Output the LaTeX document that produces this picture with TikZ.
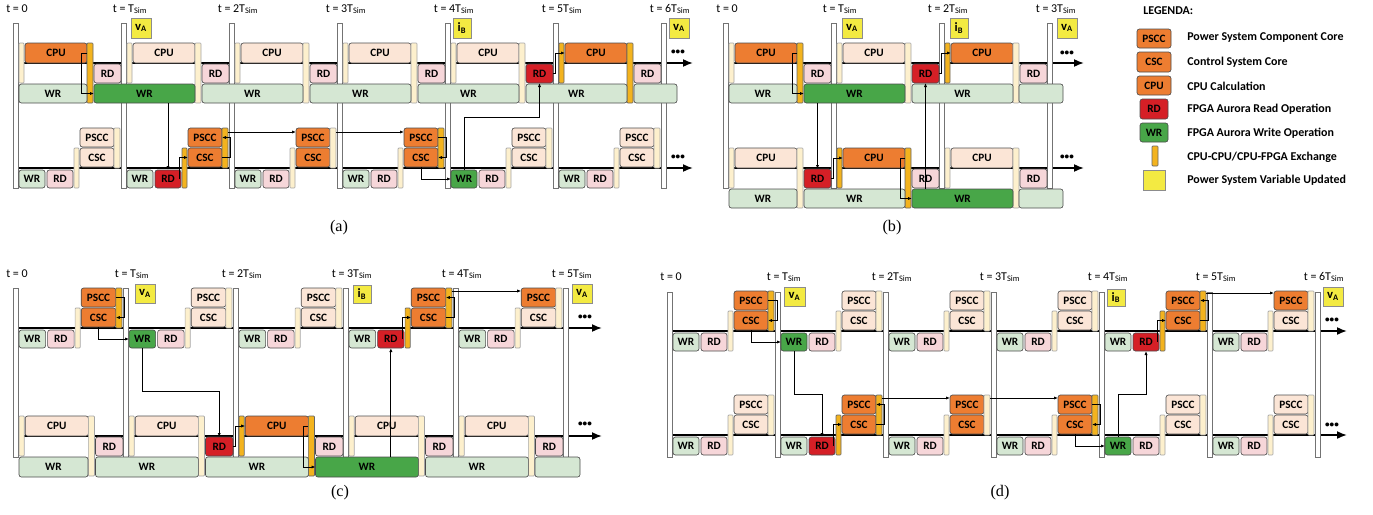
\documentclass[tikz,border=0pt]{standalone}
\usepackage{fontspec}
\setmainfont{Carlito}
\newfontfamily\capfont{Liberation Serif}
\usetikzlibrary{arrows.meta, calc}

\definecolor{orgD}{RGB}{237,125,49}
\definecolor{orgL}{RGB}{251,229,214}
\definecolor{redD}{RGB}{213,31,38}
\definecolor{redL}{RGB}{246,214,217}
\definecolor{grnD}{RGB}{72,166,72}
\definecolor{grnL}{RGB}{213,231,211}
\definecolor{gold}{RGB}{243,179,30}
\definecolor{cream}{RGB}{253,240,205}
\definecolor{yel}{RGB}{243,234,66}

\tikzset{
  blk/.style={draw=black!70, line width=0.45pt, rounded corners=0.06cm, inner sep=0pt, outer sep=0pt,
    font=\bfseries\fontsize{8}{9}\selectfont},
  cpuD/.style={blk, fill=orgD},
  cpuL/.style={blk, fill=orgL},
  rdD/.style={blk, fill=redD},
  rdL/.style={blk, fill=redL},
  wrD/.style={blk, fill=grnD},
  wrL/.style={blk, fill=grnL},
  idle/.style={blk, fill=cream, draw=black!35, rounded corners=0.02cm},
  xch/.style={blk, fill=gold, draw=black!60, rounded corners=0.02cm},
  tbar/.style={draw=black!55, fill=white, line width=0.45pt, inner sep=0pt, outer sep=0pt},
  var/.style={draw=black!45, fill=yel, inner sep=0pt, font=\bfseries\fontsize{9}{10}\selectfont},
  tlab/.style={anchor=base, inner sep=0pt, font=\fontsize{8.5}{10}\selectfont},
  dots/.style={inner sep=0pt, font=\bfseries\fontsize{6.5}{7}\selectfont},
  lane/.style={line width=1.2pt, -{Latex[length=0.25cm,width=0.2cm]}},
  con/.style={line width=0.65pt, -{Latex[length=0.1cm,width=0.08cm]}},
  legtxt/.style={anchor=west, inner sep=0pt, font=\bfseries\fontsize{8.5}{10}\selectfont},
  capt/.style={inner sep=0pt, font=\capfont\fontsize{11.5}{13}\selectfont}
}

\newcommand{\sm}{\textsubscript{Sim}}

% box from (x1,y1) to (x2,y2), figure pixels
\newcommand{\bx}[7]{%
  \pgfmathsetmacro{\bxw}{(#5)-(#3)}%
  \pgfmathsetmacro{\bxh}{(#6)-(#4)}%
  \node[#1, minimum width=\bxw*0.025cm, minimum height=\bxh*0.025cm] (#2)
    at ({((#3)+(#5))/2},{((#4)+(#6))/2}) {#7};}

% CPU lane slot: name, x0, lane y, left bar, CPU, right bar, RD
\newcommand{\cpuslot}[7]{%
  \bx{#4}{#1-lb}{#2+6*\slotk}{#3-20}{#2+11*\slotk}{#3+20}{}
  \bx{#5}{#1-cpu}{#2+12*\slotk}{#3-20}{#2+74*\slotk}{#3}{CPU}
  \bx{#6}{#1-rb}{#2+74*\slotk}{#3-20}{#2+80*\slotk}{#3+40}{}
  \bx{#7}{#1-rd}{#2+81*\slotk}{#3+1}{#2+108*\slotk}{#3+20}{RD}}

% core lane slot: name, x0, lane y, WR, RD, left bar, PSCC, CSC, right bar
\newcommand{\coreslot}[9]{%
  \bx{#4}{#1-wr}{#2+6*\slotk}{#3+2}{#2+32*\slotk}{#3+20}{WR}
  \bx{#5}{#1-rd}{#2+34*\slotk}{#3+2}{#2+60*\slotk}{#3+20}{RD}
  \bx{#6}{#1-lb}{#2+61*\slotk}{#3-20}{#2+66*\slotk}{#3+20}{}
  \bx{#7}{#1-ps}{#2+67*\slotk}{#3-40}{#2+101*\slotk}{#3-21}{PSCC}
  \bx{#8}{#1-cs}{#2+67*\slotk}{#3-20}{#2+101*\slotk}{#3-1}{CSC}
  \bx{#9}{#1-rb}{#2+101*\slotk}{#3-40}{#2+107*\slotk}{#3}{}}

\begin{document}
\begin{tikzpicture}[x=0.025cm, y=-0.025cm]
\useasboundingbox (0,0) rectangle (1373,514);

% ================= (a) =================
\def\slotk{1}
\coordinate (a1-end) at (693,63);
\coordinate (a2-end) at (693,168);
\draw[lane] (18,63) -- (a1-end);
\draw[lane] (18,168) -- (a2-end);
\foreach \i in {0,...,6}{
  \pgfmathsetmacro{\xo}{13+108*\i}
  \bx{tbar}{a-t\i}{\xo}{23}{\xo+5}{188}{}}
\node[tlab] (a-l0) at (17,12) {t = 0};
\foreach \i/\n in {1/,2/2,3/3,4/4,5/5,6/6}
  \node[tlab] (a-l\i) at (22+108*\i,12) {t = \n T\sm};

% CPU lane
\foreach \i/\lb/\cp/\rb/\rd in {0/idle/cpuD/xch/rdL,1/idle/cpuL/idle/rdL,2/idle/cpuL/idle/rdL,
    3/idle/cpuL/idle/rdL,4/idle/cpuL/idle/rdD,5/xch/cpuD/xch/rdL}{
  \pgfmathsetmacro{\xo}{13+108*\i}
  \cpuslot{a1-\i}{\xo}{63}{\lb}{\cp}{\rb}{\rd}}
\bx{wrL}{a1-w0}{19}{84}{87}{103}{WR}
\foreach \i/\st in {1/wrD,2/wrL,3/wrL,4/wrL,5/wrL}{
  \pgfmathsetmacro{\xa}{13+108*\i-27}
  \pgfmathsetmacro{\xb}{13+108*\i+74}
  \bx{\st}{a1-w\i}{\xa}{84}{\xb}{103}{WR}}
\bx{wrL}{a1-w6}{634}{84}{677}{103}{}

% core lane
\foreach \i/\wr/\rd/\lb/\ps/\cs/\rb in {0/wrL/rdL/idle/cpuL/cpuL/idle,1/wrL/rdD/xch/cpuD/cpuD/xch,
    2/wrL/rdL/idle/cpuD/cpuD/idle,3/wrL/rdL/idle/cpuD/cpuD/xch,4/wrD/rdL/idle/cpuL/cpuL/idle,
    5/wrL/rdL/idle/cpuL/cpuL/idle}{
  \pgfmathsetmacro{\xo}{13+108*\i}
  \coreslot{a2-\i}{\xo}{168}{\wr}{\rd}{\lb}{\ps}{\cs}{\rb}}

% updated variables
\bx{var}{a-v1}{131}{18}{151}{38}{v\textsubscript{A}}
\bx{var}{a-v4}{453}{18}{471}{38}{i\textsubscript{B}}
\bx{var}{a-v6}{669}{18}{689}{38}{v\textsubscript{A}}
\node[dots] (a1-more) at (678,52) {\textbullet\textbullet\textbullet};
\node[dots] (a2-more) at (678,157) {\textbullet\textbullet\textbullet};

% data exchange
\draw[con] (a1-0-cpu.east) -- ++(-6,0) |- (a1-w1.west);
\draw[con] (a2-1-rd.north |- a1-w1.south) -- (a2-1-rd.north);
\draw[con] (a2-1-rd.east) ++(-2,0) |- (a2-1-cs.west);
\draw[con] (a2-1-cs.east) -- ++(8,0) |- (a2-1-ps.east);
\draw[con] ($(a2-1-rb.north east)+(0,4)$) -- ($(a2-2-ps.north west)+(0,4)$);
\draw[con] ($(a2-2-rb.north east)+(0,4)$) -- ($(a2-3-ps.north west)+(0,4)$);
\draw[con] (a2-3-ps.east) -- ++(8,0) |- (a2-3-cs.east);
\draw[con] (a2-3-cs.south) |- (a2-4-wr.west);
\draw[con] (a2-4-wr.north) -- ++(0,-53) -| (a1-4-rd.south);
\draw[con] (a1-4-rd.east) -- ++(2,0) |- (a1-5-cpu.west);
\node[capt] (a-cap) at (339,228) {(a)};

% ================= (b) =================
\coordinate (b1-end) at (1084,63);
\coordinate (b2-end) at (1084,168);
\draw[lane] (728,63) -- (b1-end);
\draw[lane] (728,168) -- (b2-end);
\foreach \i in {0,...,3}{
  \pgfmathsetmacro{\xo}{723+108*\i}
  \bx{tbar}{b-t\i}{\xo}{23}{\xo+5}{188}{}}
\node[tlab] (b-l0) at (727,12) {t = 0};
\foreach \i/\n in {1/,2/2,3/3}
  \node[tlab] (b-l\i) at (732+108*\i,12) {t = \n T\sm};

% upper CPU
\foreach \i/\lb/\cp/\rb/\rd in {0/idle/cpuD/xch/rdL,1/idle/cpuL/idle/rdD,2/xch/cpuD/idle/rdL}{
  \pgfmathsetmacro{\xo}{723+108*\i}
  \cpuslot{b1-\i}{\xo}{63}{\lb}{\cp}{\rb}{\rd}}
\bx{wrL}{b1-w0}{729}{84}{797}{103}{WR}
\foreach \i/\st in {1/wrD,2/wrL}{
  \pgfmathsetmacro{\xa}{723+108*\i-27}
  \pgfmathsetmacro{\xb}{723+108*\i+74}
  \bx{\st}{b1-w\i}{\xa}{84}{\xb}{103}{WR}}
\bx{wrL}{b1-w3}{1019}{84}{1063}{103}{}

% lower CPU
\foreach \i/\lb/\cp/\rb/\rd in {0/idle/cpuL/idle/rdD,1/xch/cpuD/xch/rdL,2/idle/cpuL/idle/rdL}{
  \pgfmathsetmacro{\xo}{723+108*\i}
  \cpuslot{b2-\i}{\xo}{168}{\lb}{\cp}{\rb}{\rd}}
\bx{wrL}{b2-w0}{729}{189}{797}{208}{WR}
\foreach \i/\st in {1/wrL,2/wrD}{
  \pgfmathsetmacro{\xa}{723+108*\i-27}
  \pgfmathsetmacro{\xb}{723+108*\i+74}
  \bx{\st}{b2-w\i}{\xa}{189}{\xb}{208}{WR}}
\bx{wrL}{b2-w3}{1019}{189}{1063}{208}{}

\bx{var}{b-v1}{842}{18}{862}{38}{v\textsubscript{A}}
\bx{var}{b-v2}{950}{18}{968}{38}{i\textsubscript{B}}
\bx{var}{b-v3}{1057}{18}{1077}{38}{v\textsubscript{A}}
\node[dots] (b1-more) at (1067,53) {\textbullet\textbullet\textbullet};
\node[dots] (b2-more) at (1067,157) {\textbullet\textbullet\textbullet};

\draw[con] (b1-0-cpu.east) -- ++(-5,0) |- (b1-w1.west);
\draw[con] (b2-0-rd.north |- b1-w1.south) -- (b2-0-rd.north);
\draw[con] (b2-0-rd.east) -- ++(2,0) |- (b2-1-cpu.west);
\draw[con] (b2-1-cpu.east) -- ++(-5,0) |- (b2-w2.west);
\draw[con] (b1-1-rd.south |- b2-w2.north) -- (b1-1-rd.south);
\draw[con] (b1-1-rd.east) -- ++(2,0) |- (b1-2-cpu.west);
\node[capt] (b-cap) at (892,228) {(b)};

% ================= (c) =================
\def\slotk{1.0185}
\coordinate (c1-end) at (602,328);
\coordinate (c2-end) at (602,436);
\draw[lane] (18,328) -- (c1-end);
\draw[lane] (18,436) -- (c2-end);
\foreach \i in {0,...,5}{
  \pgfmathsetmacro{\xo}{13+110*\i}
  \bx{tbar}{c-t\i}{\xo}{288}{\xo+5}{457}{}}
\node[tlab] (c-l0) at (17,277) {t = 0};
\foreach \i/\n in {1/,2/2,3/3,4/4,5/5}
  \node[tlab] (c-l\i) at (22+110*\i,277) {t = \n T\sm};

% core lane
\foreach \i/\wr/\rd/\lb/\ps/\cs/\rb in {0/wrL/rdL/idle/cpuD/cpuD/xch,1/wrD/rdL/idle/cpuL/cpuL/idle,
    2/wrL/rdL/idle/cpuL/cpuL/idle,3/wrL/rdD/xch/cpuD/cpuD/xch,4/wrL/rdL/idle/cpuD/cpuL/idle}{
  \pgfmathsetmacro{\xo}{13+110*\i}
  \coreslot{c1-\i}{\xo}{328}{\wr}{\rd}{\lb}{\ps}{\cs}{\rb}}

% CPU lane
\foreach \i/\lb/\cp/\rb/\rd in {0/idle/cpuL/idle/rdL,1/idle/cpuL/idle/rdD,2/xch/cpuD/xch/rdL,
    3/idle/cpuL/idle/rdL,4/idle/cpuL/idle/rdL}{
  \pgfmathsetmacro{\xo}{13+110*\i}
  \cpuslot{c2-\i}{\xo}{436}{\lb}{\cp}{\rb}{\rd}}
\bx{wrL}{c2-w0}{19}{457}{88}{477}{WR}
\foreach \i/\st in {1/wrL,2/wrL,3/wrD,4/wrL}{
  \pgfmathsetmacro{\xa}{13+110*\i-27.5}
  \pgfmathsetmacro{\xb}{13+110*\i+75.4}
  \bx{\st}{c2-w\i}{\xa}{457}{\xb}{477}{WR}}
\bx{wrL}{c2-w5}{535}{457}{580}{477}{}

\bx{var}{c-v1}{135}{284}{155}{303}{v\textsubscript{A}}
\bx{var}{c-v3}{353}{285}{371}{303}{i\textsubscript{B}}
\bx{var}{c-v5}{572}{284}{592}{303}{v\textsubscript{A}}
\node[dots] (c1-more) at (585,317) {\textbullet\textbullet\textbullet};
\node[dots] (c2-more) at (585,424) {\textbullet\textbullet\textbullet};

\draw[con] (c1-0-ps.east) -- ++(9,0) |- (c1-0-cs.east);
\draw[con] (c1-0-cs.south) |- (c1-1-wr.west);
\draw[con] (c1-1-wr.south) -- ++(0,43) -| (c2-1-rd.north);
\draw[con] (c2-1-rd.east) -- ++(2,0) |- (c2-2-cpu.west);
\draw[con] (c2-2-cpu.east) -- ++(-5,0) |- (c2-w3.west);
\draw[con] (c1-3-rd.south |- c2-w3.north) -- (c1-3-rd.south);
\draw[con] (c1-3-rd.east) ++(-2,0) |- (c1-3-cs.west);
\draw[con] (c1-3-cs.east) -- ++(9,0) |- (c1-3-ps.east);
\draw[con] ($(c1-3-rb.north east)+(0,3)$) -- ($(c1-4-ps.north west)+(0,3)$);
\node[capt] (c-cap) at (340,493) {(c)};

% ================= (d) =================
\def\slotk{1}
\coordinate (d1-end) at (1347,331);
\coordinate (d2-end) at (1347,435);
\draw[lane] (672,331) -- (d1-end);
\draw[lane] (672,435) -- (d2-end);
\foreach \i in {0,...,6}{
  \pgfmathsetmacro{\xo}{667+108*\i}
  \bx{tbar}{d-t\i}{\xo}{292}{\xo+5}{457}{}}
\node[tlab] (d-l0) at (671,280) {t = 0};
\foreach \i/\n in {1/,2/2,3/3,4/4,5/5,6/6}
  \node[tlab] (d-l\i) at (676+108*\i,280) {t = \n T\sm};

% upper core lane
\foreach \i/\wr/\rd/\lb/\ps/\cs/\rb in {0/wrL/rdL/idle/cpuD/cpuD/xch,1/wrD/rdL/idle/cpuL/cpuL/idle,
    2/wrL/rdL/idle/cpuL/cpuL/idle,3/wrL/rdL/idle/cpuL/cpuL/idle,4/wrL/rdD/xch/cpuD/cpuD/xch,
    5/wrL/rdL/idle/cpuD/cpuL/idle}{
  \pgfmathsetmacro{\xo}{667+108*\i}
  \coreslot{d1-\i}{\xo}{331}{\wr}{\rd}{\lb}{\ps}{\cs}{\rb}}

% lower core lane
\foreach \i/\wr/\rd/\lb/\ps/\cs/\rb in {0/wrL/rdL/idle/cpuL/cpuL/idle,1/wrL/rdD/xch/cpuD/cpuD/xch,
    2/wrL/rdL/idle/cpuD/cpuD/idle,3/wrL/rdL/idle/cpuD/cpuD/xch,4/wrD/rdL/idle/cpuL/cpuL/idle,
    5/wrL/rdL/idle/cpuL/cpuL/idle}{
  \pgfmathsetmacro{\xo}{667+108*\i}
  \coreslot{d2-\i}{\xo}{435}{\wr}{\rd}{\lb}{\ps}{\cs}{\rb}}

\bx{var}{d-v1}{784}{287}{805}{306}{v\textsubscript{A}}
\bx{var}{d-v4}{1107}{289}{1125}{306}{i\textsubscript{B}}
\bx{var}{d-v6}{1323}{287}{1343}{306}{v\textsubscript{A}}
\node[dots] (d1-more) at (1332,320) {\textbullet\textbullet\textbullet};
\node[dots] (d2-more) at (1332,425) {\textbullet\textbullet\textbullet};

\draw[con] (d1-0-ps.east) -- ++(9,0) |- (d1-0-cs.east);
\draw[con] (d1-0-cs.south) |- (d1-1-wr.west);
\draw[con] (d1-1-wr.south) -- ++(0,43) -| (d2-1-rd.north);
\draw[con] (d2-1-rd.east) ++(-2,0) |- (d2-1-cs.west);
\draw[con] (d2-1-cs.east) -- ++(8,0) |- (d2-1-ps.east);
\draw[con] ($(d2-1-rb.north east)+(0,3)$) -- ($(d2-2-ps.north west)+(0,3)$);
\draw[con] ($(d2-2-rb.north east)+(0,3)$) -- ($(d2-3-ps.north west)+(0,3)$);
\draw[con] (d2-3-ps.east) -- ++(8,0) |- (d2-3-cs.east);
\draw[con] (d2-3-cs.south) |- (d2-4-wr.west);
\draw[con] (d2-4-wr.north) -- ++(0,-43) -| (d1-4-rd.south);
\draw[con] (d1-4-rd.east) ++(-2,0) |- (d1-4-cs.west);
\draw[con] (d1-4-cs.east) -- ++(8,0) |- (d1-4-ps.east);
\draw[con] ($(d1-4-rb.north east)+(0,2)$) -- ($(d1-5-ps.north west)+(0,2)$);
\node[capt] (d-cap) at (1000,493) {(d)};

% ================= legend =================
\node[legtxt] (k-title) at (1143,11) {LEGENDA:};
\bx{cpuD}{k-ps}{1137}{29}{1171}{48}{PSCC}
\bx{cpuD}{k-cs}{1137}{52}{1171}{72}{CSC}
\bx{cpuD}{k-cpu}{1137}{76}{1171}{95}{CPU}
\bx{rdD}{k-rd}{1140}{99}{1168}{119}{RD}
\bx{wrD}{k-wr}{1140}{123}{1168}{142}{WR}
\bx{xch}{k-x}{1152}{146}{1158}{166}{}
\bx{var}{k-v}{1143}{170}{1165}{190}{}
\node[legtxt] (k-ps-t) at (1187,38) {Power System Component Core};
\node[legtxt] (k-cs-t) at (1187,62) {Control System Core};
\node[legtxt] (k-cpu-t) at (1187,86) {CPU Calculation};
\node[legtxt] (k-rd-t) at (1187,109) {FPGA Aurora Read Operation};
\node[legtxt] (k-wr-t) at (1187,133) {FPGA Aurora Write Operation};
\node[legtxt] (k-x-t) at (1187,157) {CPU-CPU/CPU-FPGA Exchange};
\node[legtxt] (k-v-t) at (1187,180) {Power System Variable Updated};
\end{tikzpicture}
\end{document}
